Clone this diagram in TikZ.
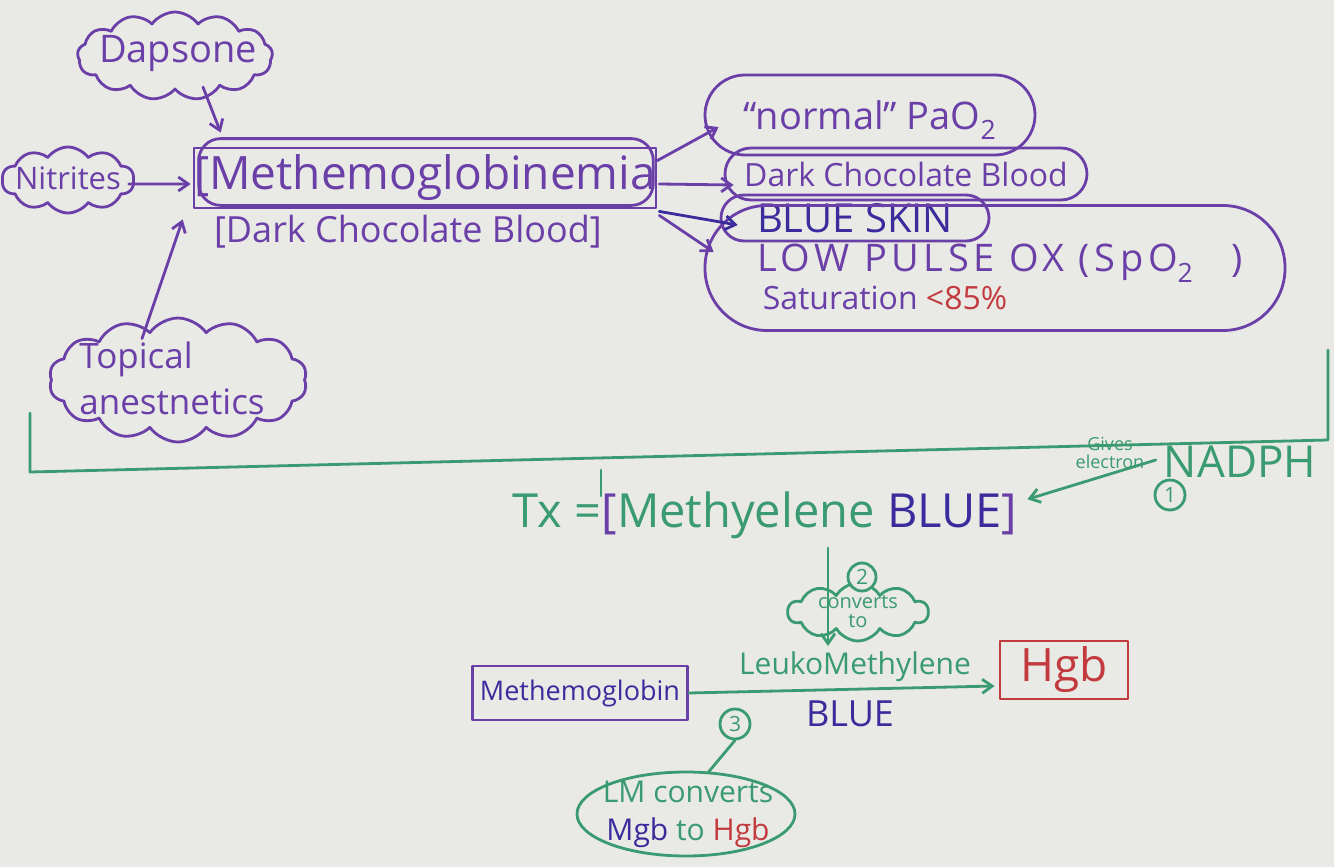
\documentclass[tikz,border=0pt]{standalone}
\usepackage{fontspec}
\setmainfont{Open Sans}
\newfontfamily\wide[LetterSpace=12]{Open Sans}
\usetikzlibrary{shapes.symbols,shapes.geometric,arrows.meta,calc}
\definecolor{paper}{HTML}{E9E9E5}
\definecolor{pur}{HTML}{6B3FA8}
\definecolor{grn}{HTML}{3A9A72}
\definecolor{nav}{HTML}{3A2C9C}
\definecolor{rd}{HTML}{C23A3E}
\tikzset{
  pen/.style={line width=2.8pt, line cap=round, line join=round},
  arr/.style={pen, -{Straight Barb[length=10pt,width=14pt]}},
  cloudnode/.style={cloud, cloud puffs=13, cloud puff arc=110, cloud ignores aspect, draw=pur, pen, inner sep=0pt},
  pill/.style={draw=pur, pen, text=pur, rectangle, inner sep=0pt},
  circ/.style={circle, draw=grn, pen, text=grn, inner sep=1pt, minimum size=30pt, font=\fontsize{21}{22}\selectfont},
  lbl/.style={inner sep=0pt},
}
\begin{document}
\begin{tikzpicture}[x=1pt,y=-1pt]
\fill[paper] (0,0) rectangle (1334,867);
\useasboundingbox (0,0) rectangle (1334,867);

% causes
\node[cloudnode, minimum width=195pt, minimum height=88pt] (dap) at (175,56) {};
\node[lbl, text=pur, font=\fontsize{38}{40}\selectfont] (dapT) at (178,54) {Dapsone};
\node[cloudnode, cloud puffs=10, minimum width=132pt, minimum height=66pt] (nit) at (68,180) {};
\node[lbl, text=pur, font=\fontsize{31}{33}\selectfont] (nitT) at (68,178) {Nitrites};
\node[cloudnode, cloud puffs=14, minimum width=258pt, minimum height=124pt] (top) at (178,380) {};
\node[lbl, text=pur, align=left, font=\fontsize{35}{46}\selectfont] (topT) at (172,378) {Topical\\anestnetics};

% main
\node[draw=pur, pen, text=pur, minimum width=450pt, minimum height=60pt, inner sep=0pt, font=\fontsize{46}{48}\selectfont] (meth) at (425,178) {[Methemoglobinemia};
\draw[pur, pen, rounded corners=22pt] ($(meth.north west)+(6,-8)$) rectangle ($(meth.south east)+(-4,-4)$);
\node[lbl, text=pur, font=\fontsize{36}{38}\selectfont] (dcb) at (408,232) {[Dark Chocolate Blood]};

\draw[arr, pur] ($(dap.south)+(28,-4)$) -- ($(meth.north west)+(28,-14)$);
\draw[arr, pur] ($(nit.east)+(-6,4)$) -- ($(meth.west)+(-2,6)$);
\draw[arr, pur] ($(top.north)+(-36,22)$) -- ($(meth.south west)+(-10,10)$);

% effects
\node[pill, rounded corners=40pt, minimum width=330pt, minimum height=80pt] (pao) at (870,115) {};
\node[lbl, text=pur, font=\fontsize{38}{40}\selectfont] (paoT) at (870,120) {“normal” PaO\textsubscript{2}};
\node[pill, rounded corners=26pt, minimum width=362pt, minimum height=52pt, font=\fontsize{32}{34}\selectfont] (dcb2) at (906,174) {Dark Chocolate Blood};
\node[pill, rounded corners=23pt, minimum width=268pt, minimum height=46pt, text=nav, font=\fontsize{40}{42}\selectfont] (skin) at (855,218) {BLUE SKIN};
\node[pill, rounded corners=62pt, minimum width=580pt, minimum height=125pt] (pulse) at (995,268) {};
\node[lbl, text=pur, font=\wide\fontsize{38}{40}\selectfont] (pulseT) at (1000,263) {LOW PULSE OX (SpO\textsubscript{2}\quad)};
\node[lbl, text=pur, font=\fontsize{32}{34}\selectfont] (satT) at (885,298) {Saturation \textcolor{rd}{<85\%}};

\draw[arr, pur] ($(meth.north east)+(0,14)$) -- ($(pao.west)+(15,12)$);
\draw[arr, pur] ($(meth.east)+(2,6)$) -- ($(dcb2.west)+(10,11)$);
\draw[arr, nav] ($(meth.south east)+(2,2)$) -- ($(skin.west)+(18,7)$);
\draw[arr, pur] ($(meth.south east)+(2,6)$) -- ($(pulse.west)+(10,-16)$);

% green bracket
\coordinate (bl) at (30,413);
\coordinate (blc) at (30,472);
\coordinate (brc) at (1328,440);
\coordinate (br) at (1328,350);
\coordinate (tka) at (601,470);
\coordinate (tkb) at (601,496);
\draw[grn, pen] (bl) -- (blc) -- (brc) -- (br);
\draw[grn, pen] (tka) -- (tkb);

% treatment
\node[lbl, font=\fontsize{47}{49}\selectfont] (tx) at (765,515) {\textcolor{grn}{Tx =}\textcolor{pur}{[}\textcolor{grn}{Methyelene} \textcolor{nav}{BLUE}\textcolor{pur}{]}};
\node[lbl, text=grn, font=\fontsize{44}{46}\selectfont] (nadph) at (1240,462) {NADPH};
\node[lbl, text=grn, align=center, font=\fontsize{18}{18}\selectfont] (give) at (1110,453) {Gives\\electron};
\node[circ] (c1) at (1170,495) {1};
\draw[arr, grn] ($(nadph.west)+(-8,-2)$) -- ($(tx.north east)+(10,8)$);

\coordinate (va) at (828,548);
\coordinate (vb) at (828,646);
\draw[arr, grn] (va) -- (vb);
\node[cloud, cloud puffs=10, cloud puff arc=120, cloud ignores aspect, draw=grn, pen, inner sep=0pt, minimum width=140pt, minimum height=58pt] (conv) at (858,612) {};
\node[lbl, text=grn, align=center, font=\fontsize{20}{19}\selectfont] (convT) at (858,612) {converts\\to};
\node[circ, minimum size=28pt, fill=paper] (c2) at (862,577) {2};

% bottom row
\node[draw=pur, pen, text=nav, minimum width=215pt, minimum height=54pt, inner sep=0pt, font=\fontsize{27}{29}\selectfont] (mgb) at (580,693) {Methemoglobin};
\node[draw=rd, pen, text=rd, minimum width=128pt, minimum height=58pt, inner sep=0pt, font=\fontsize{46}{48}\selectfont] (hgb) at (1064,670) {Hgb};
\draw[arr, grn] (mgb.east) -- ($(hgb.west)+(-4,16)$);
\node[lbl, text=grn, font=\fontsize{30}{32}\selectfont] (leuko) at (855,667) {LeukoMethylene};
\node[lbl, text=nav, font=\fontsize{36}{38}\selectfont] (blue) at (850,714) {BLUE};
\node[circ] (c3) at (735,724) {3};
\node[ellipse, draw=grn, pen, inner sep=0pt, minimum width=218pt, minimum height=84pt] (lm) at (686,814) {};
\node[lbl, text=grn, align=center, font=\fontsize{30}{38}\selectfont] (lmT) at (688,814) {LM converts\\\textcolor{nav}{Mgb} to \textcolor{rd}{Hgb}};
\draw[grn, pen] (c3.south) -- ($(lm.north)+(22,2)$);
\end{tikzpicture}
\end{document}
